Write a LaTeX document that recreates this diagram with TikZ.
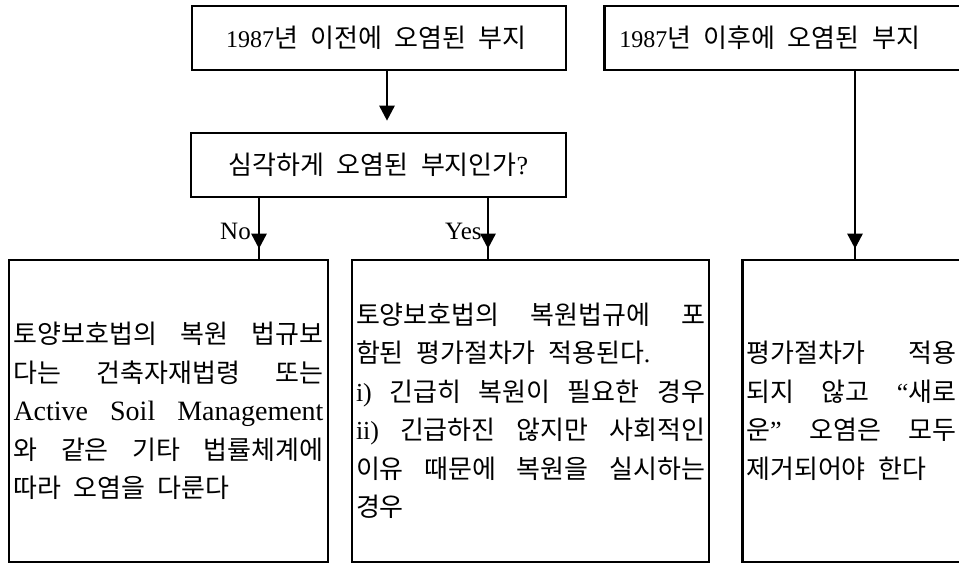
\documentclass[tikz,border=0pt]{standalone}
\usepackage{fontspec}
\setmainfont{Liberation Serif}
\newfontfamily\krf{Noto Sans CJK KR}[Scale=1.083]
\usetikzlibrary{arrows.meta,calc}
\newcommand\la[1]{{\rmfamily\fontsize{26}{38.5}\selectfont #1}}
\newcommand\ws{\hskip 0.48em plus 1fill\relax}
\newcommand\jl[2]{\leavevmode\hbox to #1{#2}}
\newcommand\nl[1]{\leavevmode\hbox{#1}}
\tikzset{
  box/.style={draw, line width=2.6pt, rectangle, inner sep=0pt, align=left,
    font=\fontsize{24}{38.5}\selectfont\krf},
  ln/.style={line width=2.6pt},
  arr/.style={line width=2.6pt, -{Triangle[width=15pt,length=15pt]}},
  lbl/.style={inner sep=0pt, anchor=base west, font=\fontsize{25}{25}\selectfont},
}
\begin{document}
\begin{tikzpicture}[x=1pt,y=-1pt]
\clip (0,0) rectangle (959,564);
\fill[white] (0,0) rectangle (959,564);

% top boxes
\node[box, minimum width=374pt, minimum height=64pt, text width=306pt] (tl) at (379,38)
  {\nl{{\rmfamily\fontsize{24}{30}\selectfont 1987}년\ws 이전에\ws 오염된\ws 부지}};
\node[box, anchor=west, minimum width=400pt, minimum height=64pt, text width=370pt] (tr) at (603,38)
  {\nl{{\rmfamily\fontsize{24}{30}\selectfont 1987}년\ws 이후에\ws 오염된\ws 부지}};

% question box
\node[box, minimum width=375pt, minimum height=64pt] (mid) at (378.5,165)
  {\nl{심각하게\ws 오염된\ws 부지인가\la{?}}};

% bottom boxes
\node[box, minimum width=319pt, minimum height=302pt, text width=310pt] (bl) at (168.5,411)
  {\jl{310pt}{토양보호법의\ws 복원\ws 법규보}\\
   \jl{310pt}{다는\ws 건축자재법령\ws 또는}\\
   \jl{310pt}{\rmfamily\fontsize{28}{38.5}\selectfont Active\ws Soil\ws Management}\\
   \jl{310pt}{와\ws 같은\ws 기타\ws 법률체계에}\\
   \nl{따라\ws 오염을\ws 다룬다}};

\node[box, minimum width=357pt, minimum height=302pt, text width=349pt] (bm) at (530.5,411)
  {\jl{349pt}{토양보호법의\ws 복원법규에\ws 포}\\
   \nl{함된\ws 평가절차가\ws 적용된다\la{.}}\\
   \jl{349pt}{\la{i)}\ws 긴급히\ws 복원이\ws 필요한\ws 경우}\\
   \jl{349pt}{\la{ii)}\ws 긴급하진\ws 않지만\ws 사회적인}\\
   \jl{349pt}{이유\ws 때문에\ws 복원을\ws 실시하는}\\
   \nl{경우}};

\node[box, anchor=west, minimum width=300pt, minimum height=302pt, text width=292pt] (br) at (741,411)
  {\jl{210pt}{평가절차가\ws 적용}\\
   \jl{210pt}{되지\ws 않고\ws \la{“}새로}\\
   \jl{210pt}{운\la{”}\ws 오염은\ws 모두}\\
   \nl{제거되어야\ws 한다}};

% connectors
\draw[arr] ($(tl.south)+(8,0)$) -- ($(mid.north)+(8.5,-11)$);

\coordinate (nox) at (259,0);
\coordinate (yesx) at (488,0);
\coordinate (rx) at (855,0);

\draw[ln] (mid.south -| nox) -- (bl.north -| nox);
\draw[arr] (mid.south -| nox) -- ($(bl.north -| nox)+(0,-10)$);
\draw[ln] (mid.south -| yesx) -- (bm.north -| yesx);
\draw[arr] (mid.south -| yesx) -- ($(bm.north -| yesx)+(0,-10)$);
\draw[ln] (tr.south -| rx) -- (br.north -| rx);
\draw[arr] (tr.south -| rx) -- ($(br.north -| rx)+(0,-10)$);

% labels
\node[lbl] (no) at (220,240) {No};
\node[lbl] (yes) at (445,240) {Yes};
\end{tikzpicture}
\end{document}
